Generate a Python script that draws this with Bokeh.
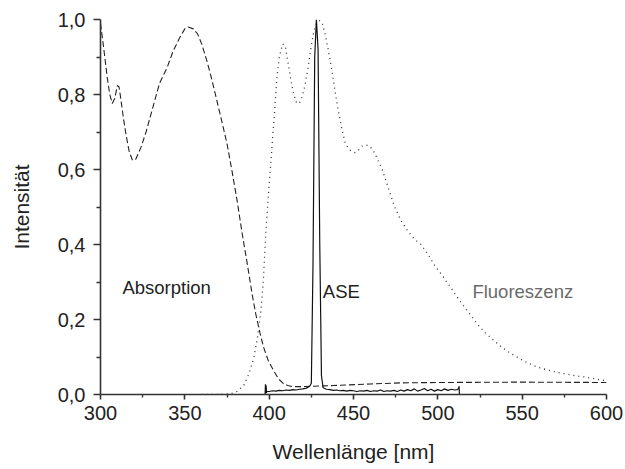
from bokeh.plotting import figure
from bokeh.models import FixedTicker, CustomJSTickFormatter, Label
from bokeh.embed import file_html
from bokeh.resources import INLINE

# ---------------- data ----------------
x_ticks = [300, 350, 400, 450, 500, 550, 600]
x_minor = [325, 375, 425, 475, 525, 575]
y_ticks = [0.0, 0.2, 0.4, 0.6, 0.8, 1.0]
y_minor = [0.1, 0.3, 0.5, 0.7, 0.9]

abs_x = [300, 302, 304, 305.5, 307, 308.5, 310, 311, 312, 313.5, 315, 317, 319, 321, 324, 327,
         331, 335, 339.5, 343, 347, 350, 352, 355, 357.5, 360, 363, 366, 369, 372, 375, 378,
         381, 384, 387, 390, 392, 394.5, 396.7, 399.5, 402.6, 405.5, 408.5, 411, 414, 418,
         425, 438, 460, 478, 500, 550, 600]
abs_y = [0.99, 0.92, 0.845, 0.80, 0.776, 0.79, 0.824, 0.82, 0.79, 0.74, 0.696, 0.648, 0.624,
         0.628, 0.659, 0.70, 0.765, 0.83, 0.872, 0.915, 0.952, 0.975, 0.98, 0.975, 0.962,
         0.935, 0.891, 0.84, 0.784, 0.727, 0.669, 0.595, 0.517, 0.429, 0.349, 0.265, 0.216,
         0.165, 0.126, 0.09, 0.064, 0.042, 0.029, 0.024, 0.021, 0.021, 0.022, 0.024, 0.028,
         0.031, 0.032, 0.033, 0.032]

fl_x = [360, 370, 377, 381, 385, 388, 391, 393, 395, 396.5, 398, 399.5, 401, 403, 404.5, 406,
        408, 409.5, 411, 412.5, 414, 416, 417.5, 419, 421, 423, 425, 426.5, 428, 430, 431.5,
        433, 435, 437, 439, 441, 443, 445, 447, 449, 451, 453, 455, 457, 459, 461, 463, 465,
        467, 470, 474, 478, 482, 486, 490, 494, 498, 503, 508, 513, 518, 523, 528, 533, 538,
        543, 548, 553, 558, 563, 568, 573, 578, 583, 588, 593, 598, 600]
fl_y = [0.0, 0.0, 0.002, 0.008, 0.025, 0.055, 0.10, 0.15, 0.22, 0.30, 0.43, 0.53, 0.62, 0.74,
        0.84, 0.90, 0.935, 0.93, 0.89, 0.85, 0.81, 0.78, 0.775, 0.785, 0.82, 0.87, 0.93, 0.97,
        0.99, 0.997, 0.99, 0.965, 0.92, 0.87, 0.81, 0.757, 0.71, 0.672, 0.655, 0.648, 0.645,
        0.652, 0.662, 0.665, 0.664, 0.655, 0.64, 0.62, 0.60, 0.56, 0.505, 0.465, 0.437, 0.415,
        0.40, 0.375, 0.345, 0.315, 0.283, 0.25, 0.22, 0.19, 0.165, 0.145, 0.126, 0.11, 0.097,
        0.085, 0.075, 0.068, 0.062, 0.057, 0.053, 0.049, 0.046, 0.042, 0.038, 0.036]

ase_x = [397.6, 397.8, 398.0, 398.2, 398.4, 398.8, 400, 402, 404, 406, 408, 410, 412, 414,
         416, 418, 420, 422, 424, 425, 426, 427, 428, 429, 430, 431, 432, 434, 436, 438,
         440, 442, 444, 446, 448, 450, 452, 454, 456, 458, 460, 462, 464, 466, 468, 470,
         472, 474, 476, 478, 480, 482, 484, 486, 488, 490, 492, 494, 496, 498, 500, 502,
         504, 506, 508, 510, 511.5, 512.3, 512.6, 512.8, 513.0]
ase_y = [0.0, 0.027, 0.003, 0.024, 0.005, 0.008, 0.008, 0.010, 0.009, 0.011, 0.010, 0.012,
         0.011, 0.013, 0.012, 0.014, 0.015, 0.017, 0.022, 0.03, 0.35, 0.90, 1.0, 0.92, 0.40,
         0.05, 0.018, 0.014, 0.013, 0.011, 0.012, 0.010, 0.011, 0.009, 0.011, 0.010, 0.008,
         0.010, 0.009, 0.011, 0.008, 0.010, 0.009, 0.012, 0.008, 0.010, 0.009, 0.011, 0.008,
         0.012, 0.009, 0.013, 0.010, 0.015, 0.009, 0.012, 0.016, 0.010, 0.014, 0.009, 0.013,
         0.010, 0.015, 0.011, 0.014, 0.012, 0.013, 0.016, 0.022, 0.0, 0.0]

labels_text = ["Absorption", "ASE", "Fluoreszenz"]
labels_x = [313.0, 431.8, 520.5]
labels_y = [0.285, 0.275, 0.275]
labels_color = ["#222222", "#222222", "#6a6a6a"]

x_title = "Wellenlänge [nm]"
y_title = "Intensität"

# ---------------- figure ----------------
FONT = "Liberation Sans"
p = figure(width=625, height=469, output_backend="svg", toolbar_location=None,
           x_range=(300, 600), y_range=(0, 1.0),
           min_border_left=100, min_border_right=19, min_border_top=19, min_border_bottom=75)
p.outline_line_color = None
p.xgrid.visible = False
p.ygrid.visible = False
p.background_fill_color = "white"

p.line(abs_x, abs_y, line_color="#222222", line_width=1.1, line_dash="6 3")
p.line(fl_x, fl_y, line_color="#333333", line_width=1.3, line_dash="1 4")
p.line(ase_x, ase_y, line_color="#111111", line_width=1.2)

for t, lx, ly, c in zip(labels_text, labels_x, labels_y, labels_color):
    p.add_layout(Label(x=lx, y=ly, text=t, text_font=FONT, text_font_size="18.5px",
                       text_color=c, text_baseline="alphabetic", text_align="left"))

fmt = CustomJSTickFormatter(code="return tick.toFixed(0);")
yfmt = CustomJSTickFormatter(code="return tick.toFixed(1).replace('.', ',');")

p.xaxis.ticker = FixedTicker(ticks=x_ticks, minor_ticks=x_minor)
p.yaxis.ticker = FixedTicker(ticks=y_ticks, minor_ticks=y_minor)
p.xaxis.formatter = fmt
p.yaxis.formatter = yfmt

for ax in (p.xaxis[0], p.yaxis[0]):
    ax.axis_line_color = "#333333"
    ax.axis_line_width = 1.6
    ax.major_tick_line_color = "#333333"
    ax.minor_tick_line_color = "#333333"
    ax.major_tick_line_width = 1.6
    ax.minor_tick_line_width = 1.4
    ax.major_tick_in = 0
    ax.minor_tick_in = 0
    ax.major_label_text_font = FONT
    ax.major_label_text_font_size = "20px"
    ax.major_label_text_color = "#222222"
    ax.axis_label_text_font = FONT
    ax.axis_label_text_font_size = "21px"
    ax.axis_label_text_font_style = "normal"
    ax.axis_label_text_color = "#222222"

p.xaxis.major_tick_out = 5
p.xaxis.minor_tick_out = 3
p.yaxis.major_tick_out = 7
p.yaxis.minor_tick_out = 4
p.xaxis.major_label_standoff = 6
p.yaxis.major_label_standoff = 8
p.xaxis.axis_label = x_title
p.yaxis.axis_label = y_title
p.xaxis.axis_label_standoff = 17
p.yaxis.axis_label_standoff = 22

open("out.html", "w").write(file_html(p, INLINE))
